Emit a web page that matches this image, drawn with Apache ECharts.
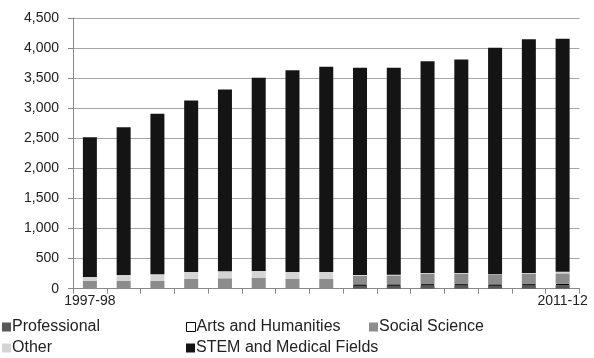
<!DOCTYPE html>
<html><head><meta charset="utf-8">
<script src="https://cdn.jsdelivr.net/npm/echarts@6/dist/echarts.min.js"></script>
<style>html,body{margin:0;padding:0;background:#fff}#c{width:594px;height:358px}</style>
</head><body><div id="c"></div>
<script>
var categories = ['1997-98','1998-99','1999-00','2000-01','2001-02','2002-03','2003-04','2004-05','2005-06','2006-07','2007-08','2008-09','2009-10','2010-11','2011-12'];
var totals = [2517, 2683, 2907, 3128, 3312, 3507, 3633, 3690, 3673, 3673, 3783, 3812, 4007, 4145, 4157];
var professional = ['-','-','-','-','-','-','-','-', 50, 52, 55, 55, 52, 55, 60];
var arts = ['-','-','-','-','-','-','-','-', 20, 18, 20, 20, 18, 20, 20];
var socialScience = [133, 133, 133, 162, 173, 183, 162, 162, 145, 150, 177, 177, 160, 177, 175];
var other = [62, 95, 107, 116, 117, 112, 116, 116, 12, 12, 10, 10, 12, 10, 25];
var yTicks = [0, 500, 1000, 1500, 2000, 2500, 3000, 3500, 4000, 4500];

function num(v){ return v === '-' ? 0 : v; }
var stem = totals.map(function(t, i){
  return t - num(professional[i]) - num(arts[i]) - socialScience[i] - other[i];
});

var font = 'Liberation Sans, Arial, sans-serif';
var chart = echarts.init(document.getElementById('c'), null, {renderer:'canvas'});
var names = ['Professional','Arts and Humanities','Social Science','Other','STEM and Medical Fields'];
var colors = ['#595959','#ffffff','#8c8c8c','#d4d4d4','#141414'];
var datas = [professional, arts, socialScience, other, stem];
var series = names.map(function(n, i){
  return {
    name: n, type: 'bar', stack: 'all', barWidth: 14, data: datas[i],
    itemStyle: {color: colors[i], borderColor: i === 1 ? '#000' : null, borderWidth: i === 1 ? 1 : 0},
    emphasis: {disabled: true}, animation: false
  };
});
var legendPos = [[2,319],[186,319],[369,319],[2,340],[186,340]];
var legends = names.map(function(n, i){
  return {
    data: [{name: n, itemStyle: i === 1 ? {color:'#fff', borderColor:'#000', borderWidth:1} : undefined}],
    left: legendPos[i][0], top: legendPos[i][1], orient: 'horizontal',
    itemWidth: 9, itemHeight: 9, icon: 'rect', itemGap: 0, padding: 0,
    textStyle: {fontFamily: font, fontSize: 16, color: '#222', padding: [0,0,0,-4]},
    selectedMode: false
  };
});
chart.setOption({
  animation: false,
  legend: legends,
  grid: {left: 73, right: 14.5, top: 18, bottom: 69.3, containLabel: false},
  xAxis: {
    type: 'category', data: categories,
    axisLine: {show: true, lineStyle: {color: '#888', width: 1}},
    axisTick: {show: true, interval: 0, length: 5, lineStyle: {color: '#888'}},
    axisLabel: {
      interval: function(i){ return i === 0 || i === categories.length - 1; },
      fontFamily: font, fontSize: 14, color: '#222', margin: 5
    }
  },
  yAxis: {
    type: 'value', min: yTicks[0], max: yTicks[yTicks.length-1], interval: 500,
    axisLine: {show: true, lineStyle: {color: '#888'}},
    axisTick: {show: true, length: 5, lineStyle: {color: '#888'}},
    splitLine: {show: true, lineStyle: {color: '#a6a6a6', width: 1}},
    axisLabel: {
      fontFamily: font, fontSize: 14, color: '#222', margin: 14,
      formatter: function(v){ return v.toLocaleString('en-US'); }
    }
  },
  series: series
});
</script></body></html>
